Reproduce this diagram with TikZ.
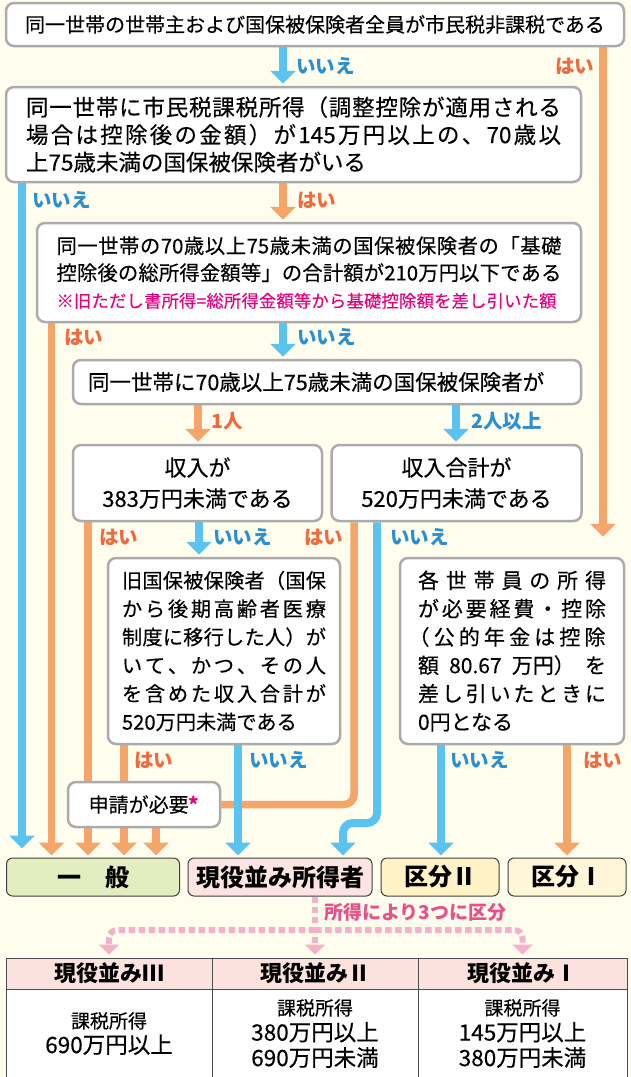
\documentclass[tikz,border=0pt]{standalone}
\usepackage{fontspec}
\setmainfont{Noto Sans CJK JP}[UprightFeatures={FakeBold=0.3}]
\usetikzlibrary{arrows.meta}
\definecolor{cream}{HTML}{FFFDEE}
\definecolor{boxgray}{HTML}{ABABAB}
\definecolor{lineblue}{HTML}{5BC3F0}
\definecolor{lineorange}{HTML}{F5A46A}
\definecolor{labblue}{HTML}{2A8FD0}
\definecolor{laborange}{HTML}{F06A3E}
\definecolor{notemag}{HTML}{E5007F}
\definecolor{ippan}{HTML}{E3EDC0}
\definecolor{genpink}{HTML}{FCE4E2}
\definecolor{kubun2}{HTML}{FFF2C4}
\definecolor{kubun1}{HTML}{FFF6D8}
\definecolor{dashpink}{HTML}{F5B1C9}
\definecolor{splittext}{HTML}{E8508A}
\definecolor{headpink}{HTML}{FBE2DF}
\pgfdeclarelayer{bg}
\pgfdeclarelayer{flow}
\pgfsetlayers{bg,flow,main}
\makeatletter
\newcommand\jline[2]{\makebox[#1][s]{\let\jsep\relax\@tfor\jc:=#2\do{\jsep\jc\let\jsep\hfil}}}
\makeatother
\tikzset{
  qbox/.style      = {shape=rectangle, rounded corners=8pt, draw=boxgray,
                      line width=2.5pt, fill=white, inner sep=0pt},
  resbox/.style    = {shape=rectangle, rounded corners=6pt, draw=black!75,
                      line width=1pt, inner sep=0pt, minimum height=38pt,
                      font=\bfseries\fontsize{24}{28}\selectfont},
  cell/.style      = {shape=rectangle, draw=black!70, line width=1pt,
                      inner sep=0pt, align=center},
  noflow/.style    = {draw=lineblue, line width=8pt},
  yesflow/.style   = {draw=lineorange, line width=7.5pt},
  flowtip/.style   = {-{Triangle[width=25pt,length=13pt]}, shorten >=2pt},
  nolab/.style     = {anchor=west, inner sep=0pt, text=labblue,
                      font=\bfseries\fontsize{19.5}{20}\selectfont},
  yeslab/.style    = {nolab, text=laborange},
  splitline/.style = {draw=dashpink, line width=6pt,
                      dash pattern=on 6.5pt off 3.5pt}
}
\begin{document}
\begin{tikzpicture}[x=1pt, y=-1pt]
  \begin{pgfonlayer}{bg}
    \fill[cream] (0,0) rectangle (631,1077);
  \end{pgfonlayer}
  \useasboundingbox (0,0) rectangle (631,1077);

  % questions
  \node [qbox, minimum width=618pt, minimum height=43pt,
         font=\fontsize{20}{24}\selectfont] (q1) at (315,24.5)
    {同一世帯の世帯主および国保被保険者全員が市民税非課税である};
  \node [qbox, minimum width=575pt, minimum height=95pt, text width=535pt,
         align=left, font=\fontsize{22.5}{27.5}\selectfont] (q2) at (293.5,134.5)
    {\jline{535pt}{同一世帯に市民税課税所得（調整控除が適用される}\\
     \jline{535pt}{場合は控除後の金額）が{145}万円以上の、{70}歳以}\\
     上75歳未満の国保被保険者がいる};
  \node [qbox, minimum width=544pt, minimum height=99pt, text width=505pt,
         align=left, font=\fontsize{20.3}{27}\selectfont] (q3) at (309,272.5)
    {\jline{505pt}{同一世帯の{70}歳以上{75}歳未満の国保被保険者の「基礎}\\
     \jline{505pt}{控除後の総所得金額等」の合計額が{210}万円以下である}\\
     {\color{notemag}\fontsize{17.3}{27}\selectfont
      \jline{500pt}{※旧ただし書所得=総所得金額等から基礎控除額を差し引いた額}}};
  \node [qbox, minimum width=508pt, minimum height=44pt, text width=478pt,
         align=left, font=\fontsize{21.5}{26}\selectfont] (q4) at (327,382)
    {同一世帯に70歳以上75歳未満の国保被保険者が};
  \node [qbox, minimum width=249pt, minimum height=76pt, align=center,
         font=\fontsize{22}{31}\selectfont] (q5) at (197.5,483)
    {収入が\\383万円未満である};
  \node [qbox, minimum width=250pt, minimum height=76pt, align=center,
         font=\fontsize{22}{31}\selectfont] (q6) at (456.5,483)
    {収入合計が\\520万円未満である};
  \node [qbox, minimum width=232pt, minimum height=186pt, text width=204pt,
         align=left, font=\fontsize{20.2}{28.3}\selectfont] (q7) at (224,651)
    {\jline{204pt}{旧国保被保険者（国保}\\
     \jline{204pt}{から後期高齢者医療}\\
     \jline{204pt}{制度に移行した人）が}\\
     \jline{204pt}{いて、かつ、その人}\\
     \jline{204pt}{を含めた収入合計が}\\
     520万円未満である};
  \node [qbox, minimum width=224pt, minimum height=186pt, text width=188pt,
         align=left, font=\fontsize{21}{28.3}\selectfont] (q8) at (512,651)
    {\jline{188pt}{各世帯員の所得}\\
     \jline{188pt}{が必要経費・控除}\\
     \hspace*{-0.45em}\jline{197pt}{（公的年金は控除}\\
     \jline{188pt}{額{80.67}{万円）}を}\\
     \jline{188pt}{差し引いたときに}\\
     0円となる};
  \node [qbox, minimum width=152pt, minimum height=45pt,
         font=\fontsize{20}{24}\selectfont] (apply) at (144,804.5)
    {申請が必要{\color{notemag}\bfseries *}};

  % results
  \node [resbox, fill=ippan,   minimum width=173pt] (ippan)  at (93,877)  {一　般};
  \node [resbox, fill=genpink, minimum width=184pt] (genek)  at (280,877) {現役並み所得者};
  \node [resbox, fill=kubun2,  minimum width=118pt] (kubun2) at (440,877) {区分Ⅱ};
  \node [resbox, fill=kubun1,  minimum width=118pt] (kubun1) at (567,877) {区分Ⅰ};

  % table
  \node [cell, fill=headpink, minimum width=206pt, minimum height=31pt,
         font=\bfseries\fontsize{22}{24}\selectfont] (t1h) at (109,973.5) {現役並みⅢ};
  \node [cell, fill=headpink, minimum width=206pt, minimum height=31pt,
         font=\bfseries\fontsize{22}{24}\selectfont] (t2h) at (315,973.5) {現役並みⅡ};
  \node [cell, fill=headpink, minimum width=209pt, minimum height=31pt,
         font=\bfseries\fontsize{22}{24}\selectfont] (t3h) at (522.5,973.5) {現役並みⅠ};
  \node [cell, fill=white, minimum width=206pt, minimum height=89pt,
         font=\fontsize{22.5}{25}\selectfont] (t1b) at (109,1033.5)
    {{\fontsize{19}{25}\selectfont 課税所得}\\690万円以上};
  \node [cell, fill=white, minimum width=206pt, minimum height=89pt,
         font=\fontsize{22.5}{25.5}\selectfont] (t2b) at (315,1033.5)
    {{\fontsize{19}{25}\selectfont 課税所得}\\380万円以上\\690万円未満};
  \node [cell, fill=white, minimum width=209pt, minimum height=89pt,
         font=\fontsize{22.5}{25.5}\selectfont] (t3b) at (522.5,1033.5)
    {{\fontsize{19}{25}\selectfont 課税所得}\\145万円以上\\380万円未満};

  % columns of the connectors
  \coordinate (spine)    at (283,0);
  \coordinate (farright) at (603,0);
  \coordinate (leftno)   at (22,0);
  \coordinate (leftyes)  at (51.5,0);
  \coordinate (one)      at (198,0);
  \coordinate (two)      at (456,0);
  \coordinate (yes5)     at (88,0);
  \coordinate (no5)      at (199,0);
  \coordinate (yes6)     at (354,0);
  \coordinate (no6)      at (377,0);
  \coordinate (jog)      at (343,823);
  \coordinate (yes7)     at (124,0);
  \coordinate (apply2)   at (156,0);
  \coordinate (no7)      at (238,0);
  \coordinate (no8)      at (441,0);
  \coordinate (yes8)     at (567,0);
  \coordinate (split)    at (315,930);

  \begin{pgfonlayer}{flow}
    % はい
    \draw [yesflow, flowtip, shorten >=20pt] (q1.south -| farright) -- (q8.north -| farright);
    \draw [yesflow, flowtip] (q2.south -| spine) -- (q3.north -| spine);
    \draw [yesflow, flowtip] (q3.south -| leftyes) -- (ippan.north -| leftyes);
    \draw [yesflow, flowtip] (q4.south -| one) -- (q5.north -| one);
    \draw [yesflow, flowtip] (q5.south -| yes5) -- (ippan.north -| yes5);
    \draw [yesflow, rounded corners=10pt] (q6.south -| yes6) |- (apply.east);
    \draw [yesflow] (q7.south -| yes7) -- (apply.north -| yes7);
    \draw [yesflow, flowtip] (apply.south -| yes7) -- (ippan.north -| yes7);
    \draw [yesflow, flowtip] (apply.south -| apply2) -- (ippan.north -| apply2);
    \draw [yesflow, flowtip] (q8.south -| yes8) -- (kubun1.north -| yes8);
    % いいえ
    \draw [noflow, flowtip] (q1.south -| spine) -- (q2.north -| spine);
    \draw [noflow, flowtip, shorten >=9pt] (q2.south -| leftno) -- (ippan.north -| leftno);
    \draw [noflow, flowtip] (q3.south -| spine) -- (q4.north -| spine);
    \draw [noflow, flowtip] (q4.south -| two) -- (q6.north -| two);
    \draw [noflow, flowtip] (q5.south -| no5) -- (q7.north -| no5);
    \draw [noflow, flowtip, rounded corners=10pt]
      (q6.south -| no6) |- (jog) -- (genek.north -| jog);
    \draw [noflow, flowtip] (q7.south -| no7) -- (genek.north -| no7);
    \draw [noflow, flowtip] (q8.south -| no8) -- (kubun2.north -| no8);
    % 現役並み所得者 split
    \draw [splitline, -{Triangle[width=20pt,length=10pt]}, shorten >=3pt]
      (genek.south -| t2h.north) -- (t2h.north);
    \draw [splitline, rounded corners=8pt, -{Triangle[width=20pt,length=10pt]}, shorten >=3pt]
      (split) -| (t1h.north);
    \draw [splitline, rounded corners=8pt, -{Triangle[width=20pt,length=10pt]}, shorten >=3pt]
      (split) -| (t3h.north);
  \end{pgfonlayer}

  % labels
  \node [nolab]  at (296,66)  {いいえ};
  \node [yeslab] at (555,66)  {はい};
  \node [nolab]  at (32,200)  {いいえ};
  \node [yeslab] at (297,200) {はい};
  \node [yeslab] at (64,337)  {はい};
  \node [nolab]  at (297,337) {いいえ};
  \node [yeslab] at (211,421) {1人};
  \node [nolab]  at (471,421) {2人以上};
  \node [yeslab] at (99,537)  {はい};
  \node [nolab]  at (213,537) {いいえ};
  \node [yeslab] at (304,537) {はい};
  \node [nolab]  at (390,537) {いいえ};
  \node [yeslab] at (134,760) {はい};
  \node [nolab]  at (249,760) {いいえ};
  \node [nolab]  at (450,760) {いいえ};
  \node [yeslab] at (583,760) {はい};
  \node [anchor=west, inner sep=0pt, text=splittext,
         font=\bfseries\fontsize{19}{20}\selectfont] (splitlab) at (324,912)
    {所得により3つに区分};
\end{tikzpicture}
\end{document}
